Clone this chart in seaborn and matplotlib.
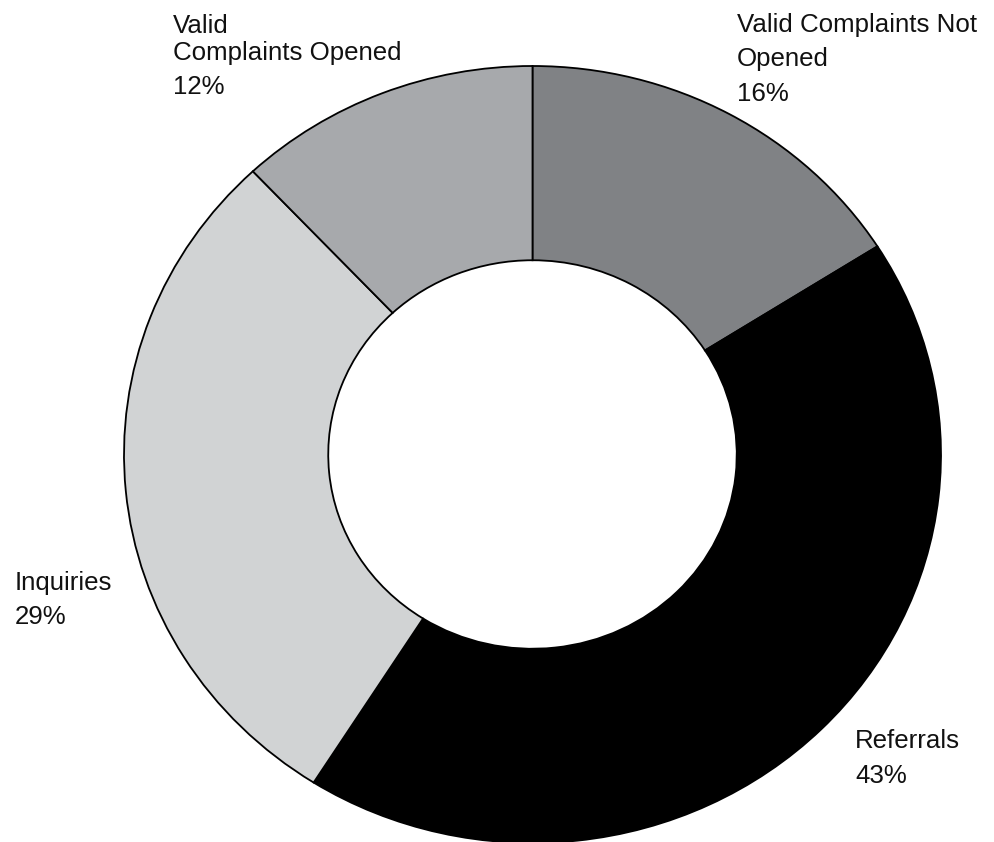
import matplotlib
matplotlib.use("Agg")
import matplotlib.pyplot as plt
import seaborn as sns

# Case categories, listed clockwise from 12 o'clock
categories = ["Valid Complaints Not\nOpened", "Referrals", "Inquiries", "Valid\nComplaints Opened"]
shares = [16, 43, 29, 12]
colors = ["#808285", "#000000", "#d1d3d4", "#a7a9ac"]

sns.set_style("white")
plt.rcParams["font.family"] = ["Liberation Sans", "DejaVu Sans"]

W, H = 994, 842
fig = plt.figure(figsize=(W / 100, H / 100), dpi=100)
fig.patch.set_facecolor("white")

# ring spans x 124..941 px, centre y 454.5 px from top, vertical radius 388.5 px
left, right = 124, 941
cy_top, ry = 454.5, 388.5
ax = fig.add_axes([left / W, (H - cy_top - ry) / H, (right - left) / W, 2 * ry / H])

ax.pie(
    shares,
    colors=colors,
    startangle=90,
    counterclock=False,
    radius=1.0,
    wedgeprops=dict(width=0.5, edgecolor="black", linewidth=1.3),
)
ax.set_aspect("auto")
ax.set_xlim(-1, 1)
ax.set_ylim(-1, 1)
ax.axis("off")

# label anchors: left x and the baseline of each line, in pixels from top-left
label_pos = {
    0: (737, [32, 66, 101]),
    1: (855, [748, 783]),
    2: (15, [590, 624]),
    3: (173, [33, 60, 94]),
}

for i, (name, val) in enumerate(zip(categories, shares)):
    x, baselines = label_pos[i]
    lines = name.split("\n") + [f"{val}%"]
    for line, by in zip(lines, baselines):
        fig.text(x / W, (H - by) / H, line, ha="left", va="baseline",
                 fontsize=18.6, color="#111111")

fig.savefig("out.png", dpi=100, facecolor="white")
